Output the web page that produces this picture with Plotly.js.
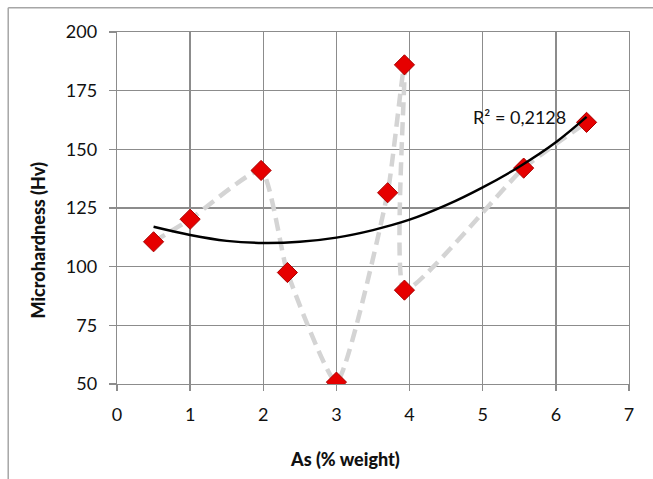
<!DOCTYPE html>
<html>
<head>
<meta charset="utf-8">
<script src="https://cdn.plot.ly/plotly-3.0.1.min.js"></script>
<style>html,body{margin:0;padding:0;background:#fff;}#chart{width:653px;height:479px;}</style>
</head>
<body>
<div id="chart"></div>
<script>
// Measured data (As % weight vs Microhardness Hv)
const asWeight = [0.5, 1.0, 1.97, 2.33, 3.0, 3.7, 3.93, 3.93, 5.56, 6.42];
const hardness = [110.6, 120.2, 141.0, 97.5, 50.8, 131.5, 186.0, 90.0, 142.0, 161.5];

// Polynomial (order 2) trendline
const trendX = [0.5, 1.0, 1.5, 2.0, 2.5, 3.0, 3.5, 4.0, 4.5, 5.0, 5.5, 6.0, 6.42];
const trendY = [117.0, 113.5, 111.0, 110.1, 110.6, 112.4, 115.6, 120.0, 126.2, 133.8, 142.6, 153.0, 163.8];

const xTicks = [0, 1, 2, 3, 4, 5, 6, 7];
const yTicks = [50, 75, 100, 125, 150, 175, 200];
const r2Label = "R² = 0,2128";
const xTitle = "As (% weight)";
const yTitle = "Microhardness (Hv)";

const FONT = "Lato, 'Open Sans', sans-serif";

const traces = [
  {
    x: asWeight, y: hardness, type: 'scatter', mode: 'lines+markers',
    line: {color: '#d4d4d4', width: 4.5, dash: '13px,7px', shape: 'spline', smoothing: 0.5},
    marker: {symbol: 'diamond', size: 15.5, color: '#e60000', line: {color: '#a80000', width: 1}},
    hoverinfo: 'x+y', showlegend: false
  },
  {
    x: trendX, y: trendY, type: 'scatter', mode: 'lines',
    line: {color: '#000000', width: 2.4, shape: 'spline'},
    hoverinfo: 'skip', showlegend: false
  }
];

const W = 653, H = 479, L = 116.5, R = 23.5, T = 31.7, B = 94.7;
const pw = W - L - R, ph = H - T - B;
const px = v => (v - L) / pw;
const py = v => (H - B - v) / ph;

const layout = {
  width: W, height: H,
  margin: {l: L, r: R, t: T, b: B, pad: 0},
  paper_bgcolor: '#ffffff', plot_bgcolor: '#ffffff',
  font: {family: FONT, size: 18, color: '#000'},
  xaxis: {
    range: [0, 7], tickvals: xTicks, ticktext: xTicks.map(String),
    showgrid: true, gridcolor: '#8c8c8c', gridwidth: 1.3,
    showline: true, linecolor: '#8c8c8c', linewidth: 1.3, mirror: true,
    ticks: 'outside', ticklen: 6, tickcolor: '#8c8c8c', tickwidth: 1.3,
    ticklabelstandoff: 8,
    zeroline: false, tickfont: {family: FONT, size: 18, color: '#111'}
  },
  yaxis: {
    range: [50, 200], tickvals: yTicks, ticktext: yTicks.map(String),
    showgrid: true, gridcolor: '#8c8c8c', gridwidth: 1.3,
    showline: true, linecolor: '#8c8c8c', linewidth: 1.3, mirror: true,
    ticks: 'outside', ticklen: 7, tickcolor: '#8c8c8c', tickwidth: 1.3,
    ticklabelstandoff: 8,
    zeroline: false, tickfont: {family: FONT, size: 18, color: '#111'}
  },
  annotations: [
    {text: r2Label, xref: 'paper', yref: 'paper', x: px(520), y: py(117),
     xanchor: 'center', yanchor: 'middle', showarrow: false,
     font: {family: FONT, size: 18, color: '#111'}},
    {text: xTitle, xref: 'paper', yref: 'paper', x: px(345), y: py(459),
     xanchor: 'center', yanchor: 'middle', showarrow: false,
     font: {family: FONT, size: 18, color: '#111', weight: 900}},
    {text: yTitle, xref: 'paper', yref: 'paper', x: px(37), y: py(240),
     xanchor: 'center', yanchor: 'middle', showarrow: false, textangle: -90,
     font: {family: FONT, size: 18, color: '#111', weight: 900}}
  ],
  shapes: [
    {type: 'line', xref: 'paper', yref: 'paper', x0: px(7.5), x1: px(660), y0: py(7.5), y1: py(7.5),
     line: {color: '#a6a6a6', width: 1.5}},
    {type: 'line', xref: 'paper', yref: 'paper', x0: px(7.5), x1: px(7.5), y0: py(7.5), y1: py(490),
     line: {color: '#a6a6a6', width: 1.5}}
  ]
};

Plotly.newPlot('chart', traces, layout, {displayModeBar: false, staticPlot: true});
</script>
</body>
</html>
